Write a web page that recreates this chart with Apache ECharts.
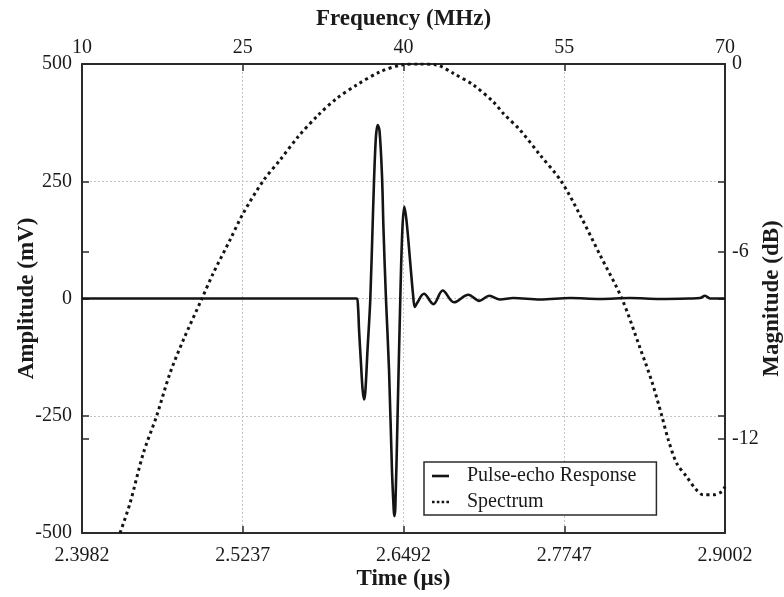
<!DOCTYPE html>
<html>
<head>
<meta charset="utf-8">
<script src="https://cdn.jsdelivr.net/npm/echarts@6/dist/echarts.min.js"></script>
<style>
  html, body { margin: 0; padding: 0; background: #ffffff; }
  #chart { width: 784px; height: 597px; }
</style>
</head>
<body>
<div id="chart"></div>
<script>
// Bottom axis: time (µs); left axis: pulse-echo amplitude (mV)
const timeTicks = [2.3982, 2.5237, 2.6492, 2.7747, 2.9002];
const ampTicks = [-500, -250, 0, 250, 500];

const pulseTime = [
  2.3982, 2.4500, 2.5000, 2.5500, 2.6000, 2.6127, 2.6137, 2.6145, 2.6160, 2.6173,
  2.6184, 2.6194, 2.6211, 2.6233, 2.6254, 2.6275, 2.6291, 2.6305, 2.6324, 2.6336,
  2.6355, 2.6379, 2.6402, 2.6415, 2.6420, 2.6428, 2.6445, 2.6467, 2.6483, 2.6498,
  2.6515, 2.6543, 2.6566, 2.6580, 2.6597, 2.6652, 2.6725, 2.6798, 2.6886, 2.6998,
  2.7084, 2.7162, 2.7245, 2.7349, 2.7558, 2.7792, 2.8026, 2.8260, 2.8495, 2.8729,
  2.8807, 2.8846, 2.8885, 2.9002
];
const pulseAmp = [
  0, 0, 0, 0, 0, 0, -18, -67, -138, -195,
  -215, -199, -110, 0, 184, 338, 370, 357, 263, 146,
  0, -152, -366, -447, -464, -447, -259, 0, 146, 196,
  167, 82, 10, -18, -10, 10, -12, 17, -8, 8,
  -5, 6, -2, 1, -2, 1, -1, 1, -1, 0,
  1, 6, 0, 0
];

// Top axis: frequency (MHz); right axis: spectrum magnitude (dB)
const freqTicks = [10, 25, 40, 55, 70];
const magTicks = [-12, -6, 0];
const magRange = [-15, 0];

const specFreq = [
  13.55, 14.48, 15.72, 16.97, 18.21, 19.45, 21.17, 22.25, 23.81, 25.05,
  26.92, 28.48, 30.18, 32.05, 33.77, 35.63, 37.81, 39.83, 41.54, 43.10,
  44.65, 46.51, 48.38, 49.31, 50.87, 52.74, 54.70, 56.47, 58.34, 60.36,
  62.07, 63.19, 64.09, 64.71, 65.49, 66.42, 67.20, 67.97, 68.91, 69.69,
  70.00
];
const specMag = [
  -15.00, -14.05, -12.45, -11.25, -9.89, -8.83, -7.52, -6.69, -5.63, -4.77,
  -3.73, -3.07, -2.32, -1.63, -1.10, -0.67, -0.25, -0.03, 0.00, -0.03,
  -0.30, -0.67, -1.21, -1.58, -2.11, -2.91, -3.74, -4.83, -6.11, -7.49,
  -9.08, -10.17, -11.24, -12.02, -12.77, -13.20, -13.57, -13.78, -13.78, -13.68,
  -13.52
];

const serif = '"Liberation Serif", "DejaVu Serif", serif';
const ink = '#1a1a1a';
const frame = '#2b2b2b';
const traceColor = '#141414';

const tickLabel = { fontFamily: serif, fontSize: 20, color: ink };
const titleText = { fontFamily: serif, fontSize: 23, fontWeight: 'bold', color: ink };
const gridLine = { show: true, lineStyle: { color: '#c4c4c4', width: 1, type: [2, 2] } };
const inTick = (extra) => Object.assign({ show: true, inside: true, length: 7, lineStyle: { color: frame, width: 1.5 } }, extra || {});
const frameLine = { show: true, onZero: false, lineStyle: { color: frame, width: 2 } };

const timeStep = Math.round((timeTicks[1] - timeTicks[0]) * 1e4) / 1e4;
const freqStep = freqTicks[1] - freqTicks[0];
const ampStep = ampTicks[1] - ampTicks[0];

// legend swatches: a short solid bar and a row of square dots
const solidIcon = 'path://M0,0h17v2.6h-17z';
const dottedIcon = 'path://M0,0h2.6v2.6h-2.6z M4.8,0h2.6v2.6h-2.6z M9.6,0h2.6v2.6h-2.6z M14.4,0h2.6v2.6h-2.6z';

const chart = echarts.init(document.getElementById('chart'), null, { renderer: 'canvas' });

chart.setOption({
  backgroundColor: '#ffffff',
  animation: false,
  grid: { left: 82, right: 59, top: 64, bottom: 64, containLabel: false, outerBoundsMode: 'none' },
  legend: {
    orient: 'vertical',
    left: 424,
    top: 462,
    padding: [4, 20, 3, 8],
    itemGap: 6,
    itemWidth: 17,
    itemHeight: 14,
    borderColor: frame,
    borderWidth: 1.5,
    borderRadius: 0,
    backgroundColor: '#ffffff',
    textStyle: Object.assign({}, tickLabel, { padding: [0, 0, 0, 13] }),
    data: [
      { name: 'Pulse-echo Response', icon: solidIcon },
      { name: 'Spectrum', icon: dottedIcon }
    ]
  },
  xAxis: [
    {
      type: 'value',
      position: 'bottom',
      min: timeTicks[0],
      max: timeTicks[timeTicks.length - 1],
      interval: timeStep,
      name: 'Time (µs)',
      nameLocation: 'middle',
      nameGap: 35,
      nameMoveOverlap: false,
      nameTextStyle: titleText,
      axisLine: frameLine,
      axisTick: inTick(),
      axisLabel: Object.assign({}, tickLabel, { margin: 13, formatter: v => v.toFixed(4) }),
      splitLine: gridLine
    },
    {
      type: 'value',
      position: 'top',
      min: freqTicks[0],
      max: freqTicks[freqTicks.length - 1],
      interval: freqStep,
      name: 'Frequency (MHz)',
      nameLocation: 'middle',
      nameGap: 33,
      nameMoveOverlap: false,
      nameTextStyle: titleText,
      axisLine: frameLine,
      axisTick: inTick(),
      axisLabel: Object.assign({}, tickLabel, { margin: 6 }),
      splitLine: { show: false }
    }
  ],
  yAxis: [
    {
      type: 'value',
      position: 'left',
      min: ampTicks[0],
      max: ampTicks[ampTicks.length - 1],
      interval: ampStep,
      name: 'Amplitude (mV)',
      nameLocation: 'middle',
      nameGap: 43,
      nameMoveOverlap: false,
      nameTextStyle: titleText,
      axisLine: frameLine,
      axisTick: inTick(),
      axisLabel: Object.assign({}, tickLabel, { margin: 10 }),
      splitLine: gridLine
    },
    {
      type: 'value',
      position: 'right',
      min: magRange[0],
      max: magRange[1],
      name: 'Magnitude (dB)',
      nameLocation: 'middle',
      nameGap: 36,
      nameMoveOverlap: false,
      nameTextStyle: titleText,
      axisLine: frameLine,
      axisTick: inTick({ customValues: magTicks }),
      axisLabel: Object.assign({}, tickLabel, { margin: 7, customValues: magTicks }),
      splitLine: { show: false }
    },
    {
      // dB ticks repeated on the left frame edge
      type: 'value',
      position: 'left',
      min: magRange[0],
      max: magRange[1],
      axisLine: { show: false },
      axisTick: inTick({ customValues: magTicks }),
      axisLabel: { show: false },
      splitLine: { show: false }
    },
    {
      // mV ticks repeated on the right frame edge
      type: 'value',
      position: 'right',
      min: ampTicks[0],
      max: ampTicks[ampTicks.length - 1],
      interval: ampStep,
      axisLine: { show: false },
      axisTick: inTick(),
      axisLabel: { show: false },
      splitLine: { show: false }
    }
  ],
  series: [
    {
      name: 'Pulse-echo Response',
      type: 'line',
      xAxisIndex: 0,
      yAxisIndex: 0,
      data: pulseTime.map((t, i) => [t, pulseAmp[i]]),
      symbol: 'none',
      smooth: 0.35,
      itemStyle: { color: traceColor },
      lineStyle: { color: traceColor, width: 2.6 },
      z: 3
    },
    {
      name: 'Spectrum',
      type: 'line',
      xAxisIndex: 1,
      yAxisIndex: 1,
      data: specFreq.map((f, i) => [f, specMag[i]]),
      symbol: 'none',
      smooth: 0.3,
      itemStyle: { color: traceColor },
      lineStyle: { color: traceColor, width: 3, type: [3, 3.5] },
      z: 4
    }
  ]
});
</script>
</body>
</html>
